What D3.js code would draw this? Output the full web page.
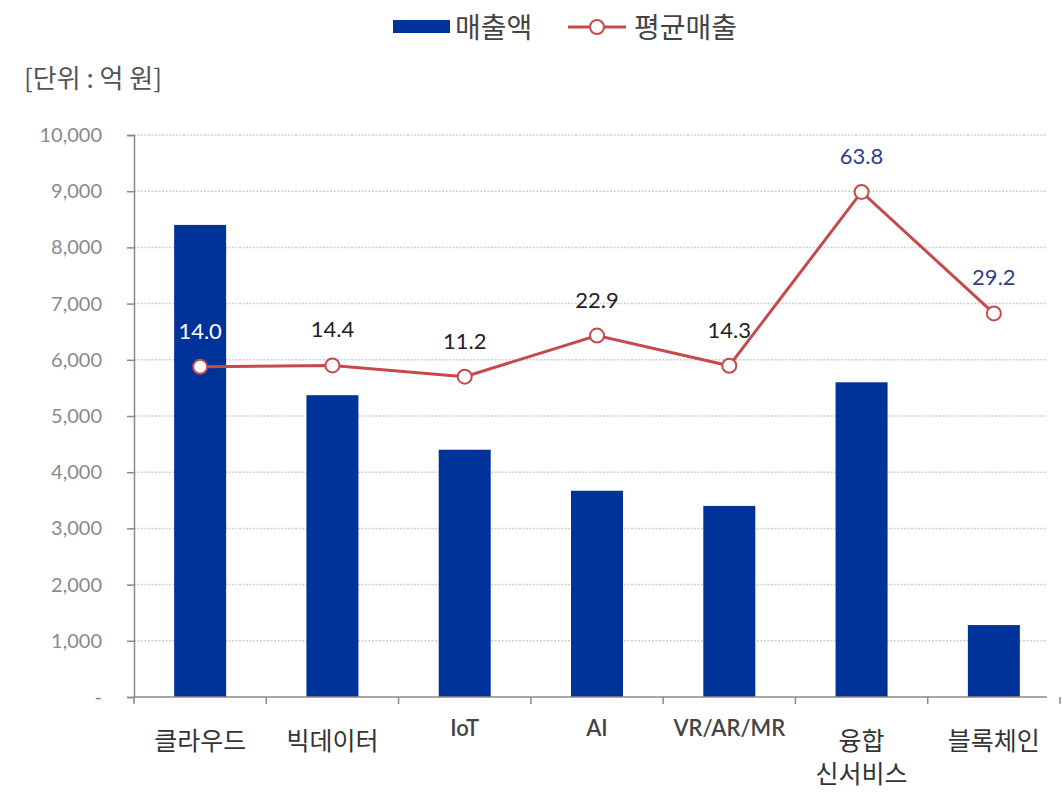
<!DOCTYPE html>
<html>
<head>
<meta charset="utf-8">
<script src="https://cdn.jsdelivr.net/npm/d3@7"></script>
<style>
  body { margin: 0; background: #fff; }
  svg text { font-family: "Noto Sans CJK KR", "Lato", sans-serif; }
</style>
</head>
<body>
<svg id="chart" width="1062" height="792"></svg>
<script>
// chart data
const categories = ["클라우드", "빅데이터", "IoT", "AI", "VR/AR/MR", "융합\n신서비스", "블록체인"];
const salesValues = [8400, 5370, 4400, 3670, 3400, 5600, 1280];   // 매출액 (억 원)
const avgValues = [14.0, 14.4, 11.2, 22.9, 14.3, 63.8, 29.2];     // 평균매출
const avgLabelColors = ["#ffffff", "#222222", "#222222", "#222222", "#222222", "#2b3f8c", "#2b3f8c"];
const yTicks = [0, 1000, 2000, 3000, 4000, 5000, 6000, 7000, 8000, 9000, 10000];

// layout
const margin = {top: 135, right: 2, bottom: 95, left: 134},
      W = 1062, H = 792,
      width = W - margin.left - margin.right,
      height = H - margin.top - margin.bottom;

const barColor = "#003399",
      lineColor = "#c54a4c";

const svg = d3.select("#chart");
const g = svg.append("g")
             .attr("transform", "translate(" + margin.left + "," + margin.top + ")");

// scales
let x = d3.scaleBand()
          .domain(categories)
          .range([0, width])
          .paddingInner(0)
          .paddingOuter(0);

let y = d3.scaleLinear()
          .domain([0, 10000])
          .range([height, 0]);

// hidden secondary axis for the average line
let y2 = d3.scaleLinear()
           .domain([-80, 80])
           .range([height, 0]);

const gridEnd = 913;

// gridlines
g.append("g")
  .selectAll("line")
  .data(yTicks.filter(d => d > 0))
  .join("line")
  .attr("x1", 0)
  .attr("x2", gridEnd)
  .attr("y1", d => y(d))
  .attr("y2", d => y(d))
  .attr("stroke", "#cfcfcf")
  .attr("stroke-width", 1.5)
  .attr("stroke-dasharray", "2,1.5");

// bars
const barW = 52;
g.append("g")
  .selectAll("rect")
  .data(salesValues)
  .join("rect")
  .attr("x", (d, i) => x(categories[i]) + x.bandwidth() / 2 - barW / 2)
  .attr("y", d => y(d))
  .attr("width", barW)
  .attr("height", d => height - y(d))
  .attr("fill", barColor);

// y axis
let yAxis = g.append("g")
  .call(d3.axisLeft(y)
          .tickValues(yTicks)
          .tickSize(7)
          .tickPadding(25)
          .tickFormat(d => d === 0 ? "-" : d3.format(",")(d)));
yAxis.select(".domain").attr("stroke", "#8a8a8a").attr("stroke-width", 1.5);
yAxis.selectAll(".tick line").attr("stroke", "#8a8a8a").attr("stroke-width", 1.5);
yAxis.selectAll(".tick text")
     .attr("fill", "#8a8a8a")
     .attr("font-size", "20px")
     .style("font-family", "Lato, sans-serif");

// x axis
let xAxisG = g.append("g").attr("transform", "translate(0," + height + ")");
xAxisG.append("line")
      .attr("x1", 0).attr("x2", gridEnd)
      .attr("y1", 0).attr("y2", 0)
      .attr("stroke", "#8a8a8a").attr("stroke-width", 1.5);
xAxisG.selectAll(".xtick")
      .data(d3.range(categories.length + 1))
      .join("line")
      .attr("class", "xtick")
      .attr("x1", i => i * x.step())
      .attr("x2", i => i * x.step())
      .attr("y1", 0).attr("y2", 7)
      .attr("stroke", "#8a8a8a").attr("stroke-width", 1.5);

// category labels
xAxisG.selectAll(".xlabel")
  .data(categories)
  .join("text")
  .attr("class", "xlabel")
  .attr("text-anchor", "middle")
  .attr("fill", "#333")
  .each(function(d) {
    let t = d3.select(this);
    let latin = /^[A-Za-z\/]+$/.test(d);
    let cx = x(d) + x.bandwidth() / 2;
    if (latin) {
      t.attr("font-size", "22px")
       .style("font-family", "Lato, sans-serif")
       .style("font-weight", "600")
       .attr("fill", "#444")
       .attr("x", cx).attr("y", 39).text(d);
    } else {
      t.attr("font-size", "25px");
      d.split("\n").forEach((line, k) => {
        t.append("tspan").attr("x", cx).attr("y", 53 + k * 33).text(line);
      });
    }
  });

// average line
g.append("path")
  .datum(avgValues)
  .attr("fill", "none")
  .attr("stroke", lineColor)
  .attr("stroke-width", 3)
  .attr("d", d3.line()
               .x((d, i) => x(categories[i]) + x.bandwidth() / 2)
               .y(d => y2(d)));

g.append("g")
  .selectAll("circle")
  .data(avgValues)
  .join("circle")
  .attr("cx", (d, i) => x(categories[i]) + x.bandwidth() / 2)
  .attr("cy", d => y2(d))
  .attr("r", 7)
  .attr("fill", "#fff")
  .attr("stroke", lineColor)
  .attr("stroke-width", 2);

// line value labels
g.append("g")
  .selectAll("text")
  .data(avgValues)
  .join("text")
  .attr("x", (d, i) => x(categories[i]) + x.bandwidth() / 2)
  .attr("y", d => y2(d) - 28)
  .attr("text-anchor", "middle")
  .attr("font-size", "22px")
  .style("font-family", "Lato, sans-serif")
  .attr("fill", (d, i) => avgLabelColors[i])
  .text(d => d.toFixed(1));

// legend
let legend = svg.append("g");
legend.append("rect")
      .attr("x", 393).attr("y", 20)
      .attr("width", 57).attr("height", 13)
      .attr("fill", barColor);
legend.append("text")
      .attr("x", 455).attr("y", 38)
      .attr("font-size", "28px")
      .attr("fill", "#444")
      .text("매출액");
legend.append("line")
      .attr("x1", 568).attr("x2", 626)
      .attr("y1", 27).attr("y2", 27)
      .attr("stroke", lineColor).attr("stroke-width", 3);
legend.append("circle")
      .attr("cx", 597).attr("cy", 27).attr("r", 7)
      .attr("fill", "#fff")
      .attr("stroke", lineColor).attr("stroke-width", 2);
legend.append("text")
      .attr("x", 634).attr("y", 38)
      .attr("font-size", "28px")
      .attr("fill", "#444")
      .text("평균매출");

// unit label
svg.append("text")
   .attr("x", 24).attr("y", 88)
   .attr("font-size", "26px")
   .attr("fill", "#555")
   .text("[단위 : 억 원]");
</script>
</body>
</html>
